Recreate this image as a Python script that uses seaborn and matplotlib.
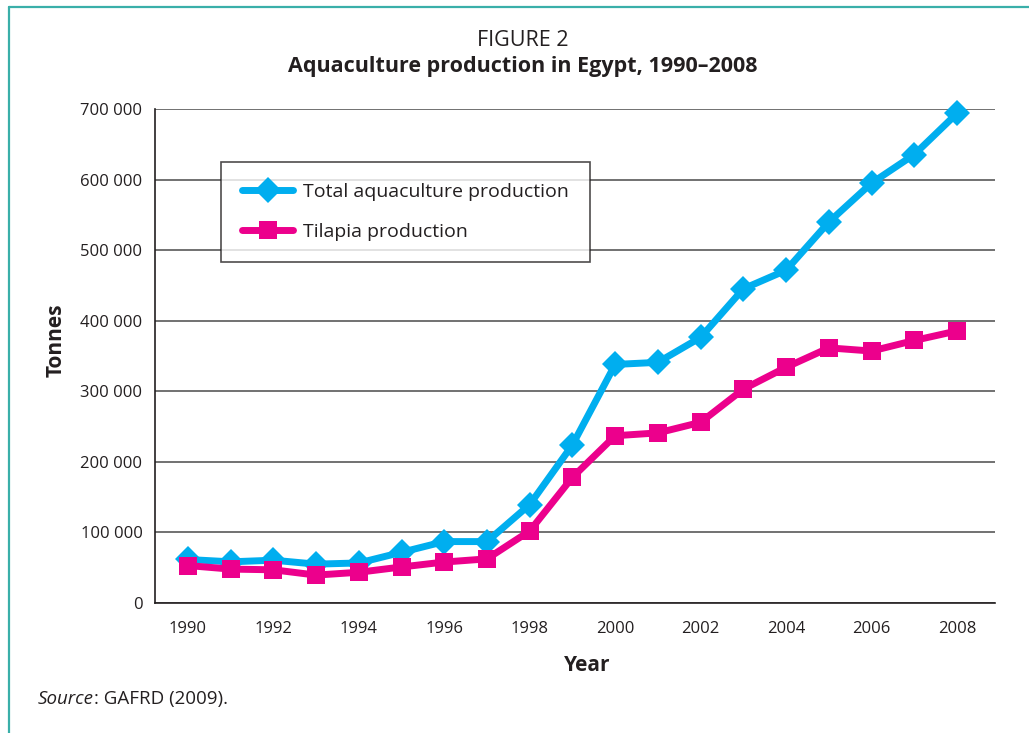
import matplotlib
matplotlib.use("Agg")
import matplotlib.pyplot as plt
from matplotlib.lines import Line2D
from matplotlib.ticker import FuncFormatter
import pandas as pd
import seaborn as sns

# Aquaculture production in Egypt (tonnes)
years = list(range(1990, 2009))
total_production = [61600, 58300, 60600, 55000, 56700, 71800, 87000, 87000, 139400,
                    224000, 338000, 341000, 376300, 445200, 471500, 539700, 595000,
                    635500, 693800]
tilapia_production = [53000, 48000, 47000, 39500, 43500, 51000, 58000, 62500, 102000,
                      178000, 237000, 241000, 256000, 303000, 334000, 361500, 357000,
                      372000, 385500]
series_names = ["Total aquaculture production", "Tilapia production"]
y_ticks = [0, 100000, 200000, 300000, 400000, 500000, 600000, 700000]
x_ticks = list(range(1990, 2009, 2))

BLUE = "#00AEEF"
MAGENTA = "#EC008C"
INK = "#231F20"
FONT = ["Open Sans", "DejaVu Sans"]

sns.set_theme(style="white")
plt.rcParams["font.family"] = FONT
plt.rcParams["text.color"] = INK

df = pd.DataFrame({
    "Year": years * 2,
    "Tonnes": total_production + tilapia_production,
    "Series": [series_names[0]] * len(years) + [series_names[1]] * len(years),
})

fig = plt.figure(figsize=(10.29, 7.33), dpi=100)
ax = fig.add_axes([0.1506, 0.1774, 0.8164, 0.6739])

sns.lineplot(
    data=df, x="Year", y="Tonnes", hue="Series", style="Series",
    palette={series_names[0]: BLUE, series_names[1]: MAGENTA},
    markers={series_names[0]: "D", series_names[1]: "s"},
    dashes=False, linewidth=5, markersize=13, markeredgewidth=0,
    ax=ax, legend=False, zorder=3, clip_on=False,
)

ax.set_xlim(1989.23, 2008.89)
ax.set_ylim(0, 700000)
ax.set_yticks(y_ticks)
ax.set_xticks(x_ticks)
ax.yaxis.set_major_formatter(FuncFormatter(lambda v, p: f"{int(v):,}".replace(",", " ")))
ax.grid(axis="y", color="#4a4a4a", linewidth=1.1)
ax.grid(axis="x", visible=False)
ax.set_axisbelow(True)
for side in ("top", "right"):
    ax.spines[side].set_visible(False)
for side in ("left", "bottom"):
    ax.spines[side].set_color(INK)
    ax.spines[side].set_linewidth(1.2)
ax.tick_params(axis="both", direction="out", length=6, width=1.1, color=INK,
               labelsize=12, labelcolor=INK)
ax.tick_params(axis="x", pad=7)
ax.tick_params(axis="y", pad=3)
ax.set_xlabel("")
ax.set_ylabel("")

# Legend
handles = [
    Line2D([], [], color=BLUE, linewidth=5, marker="D", markersize=13, markeredgewidth=0),
    Line2D([], [], color=MAGENTA, linewidth=5, marker="s", markersize=13, markeredgewidth=0),
]
leg = ax.legend(handles, series_names, loc="upper left", bbox_to_anchor=(0.0786, 0.893),
                borderaxespad=0, fancybox=False, frameon=True, fontsize=14,
                handlelength=2.6, handletextpad=0.5, borderpad=1.1, labelspacing=1.1)
leg.get_frame().set_edgecolor(INK)
leg.get_frame().set_linewidth(1.2)
for t in leg.get_texts():
    t.set_color(INK)

# Titles and axis labels
fig.text(0.508, 0.945, "FIGURE 2", ha="center", va="center", fontsize=15.5)
fig.text(0.508, 0.909, "Aquaculture production in Egypt, 1990–2008", ha="center",
         va="center", fontsize=15.5, fontweight="bold")
fig.text(0.055, 0.536, "Tonnes", rotation=90, ha="center", va="center",
         fontsize=15, fontweight="bold")
fig.text(0.571, 0.092, "Year", ha="center", va="center", fontsize=15, fontweight="bold")

src = fig.text(0.037, 0.047, "Source", ha="left", va="center", fontsize=13.5, style="italic")
ax.annotate(": GAFRD (2009).", xy=(1, 0), xycoords=src, ha="left", va="bottom",
            fontsize=13.5, annotation_clip=False)

# Page frame
fig.add_artist(Line2D([0.009, 0.009], [0.0, 0.990], color="#3AAFA9", linewidth=1.6,
                      transform=fig.transFigure))
fig.add_artist(Line2D([0.009, 1.0], [0.990, 0.990], color="#3AAFA9", linewidth=1.6,
                      transform=fig.transFigure))

fig.savefig("out.png", dpi=100)
